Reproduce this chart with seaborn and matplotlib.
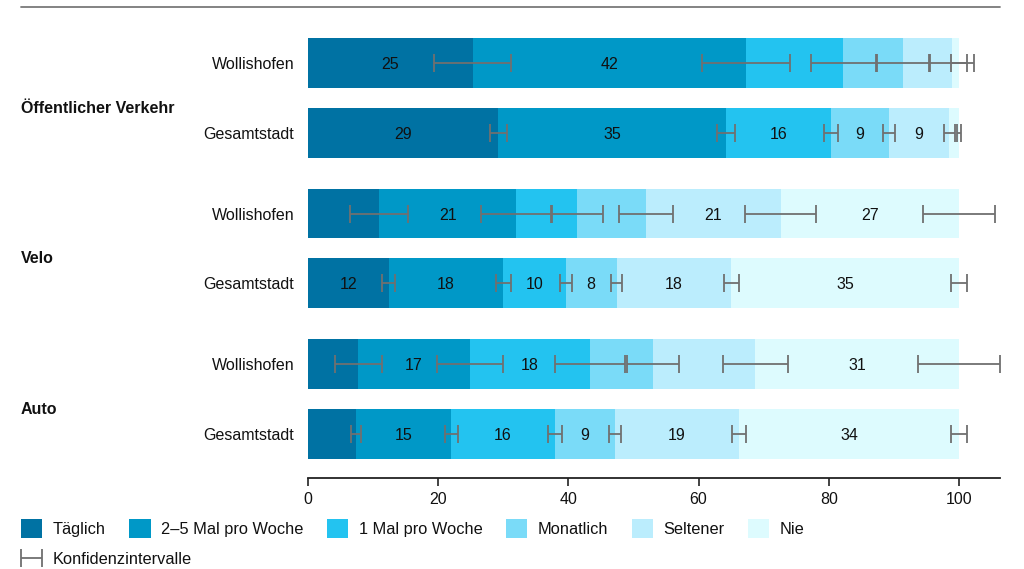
import numpy as np
import pandas as pd
import matplotlib
matplotlib.use("Agg")
import matplotlib.pyplot as plt
import seaborn as sns
from matplotlib.patches import Patch
from matplotlib.lines import Line2D
from matplotlib.legend_handler import HandlerErrorbar
from matplotlib.container import ErrorbarContainer
from matplotlib.transforms import blended_transform_factory

# ---------------- data ----------------
categories = ["Täglich", "2–5 Mal pro Woche", "1 Mal pro Woche", "Monatlich", "Seltener", "Nie"]
colors = ["#0072A3", "#0098C7", "#23C3F0", "#7ADBF8", "#BBEDFD", "#DDFBFE"]
groups = ["Öffentlicher Verkehr", "Velo", "Auto"]
areas = ["Wollishofen", "Gesamtstadt"]
x_ticks = [0, 20, 40, 60, 80, 100]

# shares in percent; row order: ÖV-Wollishofen, ÖV-Gesamtstadt, Velo-W, Velo-G, Auto-W, Auto-G
taeglich  = [25.3, 29.2, 10.9, 12.4, 7.7, 7.4]
mal_2_5   = [42.0, 35.0, 21.1, 17.6, 17.2, 14.6]
mal_1     = [14.9, 16.1, 9.3, 9.6, 18.4, 15.9]
monatlich = [9.2, 8.9, 10.6, 7.8, 9.7, 9.3]
seltener  = [7.5, 9.3, 20.7, 17.6, 15.7, 19.0]
nie       = [1.1, 1.5, 27.4, 35.0, 31.3, 33.8]

# half-width of the confidence intervals (percentage points) at the end of each segment
ci_taeglich  = [5.9, 1.3, 4.4, 1.0, 3.6, 0.8]
ci_mal_2_5   = [6.8, 1.4, 5.5, 1.15, 5.1, 1.0]
ci_mal_1     = [5.0, 1.1, 4.0, 0.9, 5.4, 1.1]
ci_monatlich = [4.0, 0.9, 4.2, 0.9, 4.0, 0.9]
ci_seltener  = [3.4, 0.85, 5.5, 1.15, 5.0, 1.1]
ci_nie       = [1.2, 0.3, 5.5, 1.3, 6.3, 1.3]

# which value labels are printed
show_taeglich  = [1, 1, 0, 1, 0, 0]
show_mal_2_5   = [1, 1, 1, 1, 1, 1]
show_mal_1     = [0, 1, 0, 1, 1, 1]
show_monatlich = [0, 1, 0, 1, 0, 1]
show_seltener  = [0, 1, 1, 1, 0, 1]
show_nie       = [0, 0, 1, 1, 1, 1]

values = np.array([taeglich, mal_2_5, mal_1, monatlich, seltener, nie])
cis = np.array([ci_taeglich, ci_mal_2_5, ci_mal_1, ci_monatlich, ci_seltener, ci_nie])
shows = np.array([show_taeglich, show_mal_2_5, show_mal_1, show_monatlich, show_seltener, show_nie])

# ---------------- layout ----------------
group_gap = 0.157
positions = np.array([g * (2 + group_gap) + i for g in range(len(groups)) for i in range(len(areas))])
bar_h = 0.714
FS = 11.5

sns.set_theme(style="white")
plt.rcParams["font.family"] = ["Liberation Sans", "DejaVu Sans"]

W, H = 1024, 569
fig = plt.figure(figsize=(W / 100, H / 100), dpi=100)
ax_left, ax_right = 308 / W, 1000 / W
ax_bottom, ax_top = 1 - 478 / H, 1 - 20 / H
ax = fig.add_axes([ax_left, ax_bottom, ax_right - ax_left, ax_top - ax_bottom])

cum = np.cumsum(values, axis=0)
starts = cum - values

rows = []
for k, cat in enumerate(categories):
    for r, p in enumerate(positions):
        rows.append({"cat": cat, "k": k, "pos": p, "end": cum[k, r]})
df = pd.DataFrame(rows)

# stacked bars: draw cumulative ends from the largest to the smallest
for k in range(len(categories) - 1, -1, -1):
    sub = df[df["k"] == k]
    sns.barplot(data=sub, x="end", y="pos", orient="y", native_scale=True,
                color=colors[k], saturation=1, width=bar_h, errorbar=None,
                linewidth=0, ax=ax)

# value labels
for k in range(len(categories)):
    for r, p in enumerate(positions):
        if shows[k, r]:
            ax.text(starts[k, r] + values[k, r] / 2, p, f"{values[k, r]:.0f}",
                    ha="center", va="center_baseline", fontsize=FS, color="#111111", zorder=5)

# confidence intervals
eb = None
for k in range(len(categories)):
    eb = ax.errorbar(cum[k], positions, xerr=cis[k], fmt="none", ecolor="#707070",
                     elinewidth=1.3, capsize=6.5, capthick=1.3, zorder=4)

ax.set_xlim(0, (1000 - 308) / 6.51)
ax.set_ylim(positions[-1] + 0.63, positions[0] - 0.615)
ax.set_xticks(x_ticks)
ax.set_xticklabels([str(t) for t in x_ticks], fontsize=FS, color="#111111")
ax.set_yticks(positions)
ax.set_yticklabels(areas * len(groups), fontsize=FS, color="#111111")
ax.tick_params(axis="y", length=0, pad=10)
ax.tick_params(axis="x", length=6, width=1.2, color="#222222", direction="out", pad=4, bottom=True)
ax.set_xlabel("")
ax.set_ylabel("")
for s in ["left", "top", "right"]:
    ax.spines[s].set_visible(False)
ax.spines["bottom"].set_color("#222222")
ax.spines["bottom"].set_linewidth(1.3)

# group labels
tr = blended_transform_factory(fig.transFigure, ax.transData)
for g, name in enumerate(groups):
    y = (positions[2 * g] + positions[2 * g + 1]) / 2 + 0.15
    ax.text(21 / W, y, name, transform=tr, ha="left", va="center",
            fontsize=FS, fontweight="bold", color="#111111")

# top rule
fig.add_artist(Line2D([21 / W, 1000 / W], [1 - 7 / H, 1 - 7 / H], color="#7a7a7a", lw=1.3))

# legends
LFS = 11.8
handles = [Patch(facecolor=c, edgecolor="none", label=l) for c, l in zip(colors, categories)]
leg1 = fig.legend(handles=handles, loc="upper left", bbox_to_anchor=(21 / W, 1 - 519 / H),
                  ncol=6, frameon=False, borderpad=0, borderaxespad=0,
                  handlelength=1.3, handleheight=1.4, handletextpad=0.65,
                  columnspacing=1.42, fontsize=LFS)
for t in leg1.get_texts():
    t.set_color("#111111")
leg2 = fig.legend(handles=[eb], labels=["Konfidenzintervalle"], loc="upper left",
                  bbox_to_anchor=(21 / W, 1 - 552 / H), frameon=False, borderpad=0,
                  borderaxespad=0, handlelength=1.3, handletextpad=0.65, fontsize=LFS,
                  handler_map={ErrorbarContainer: HandlerErrorbar(xerr_size=0.63)})
for t in leg2.get_texts():
    t.set_color("#111111")

fig.savefig("out.png", dpi=100)
